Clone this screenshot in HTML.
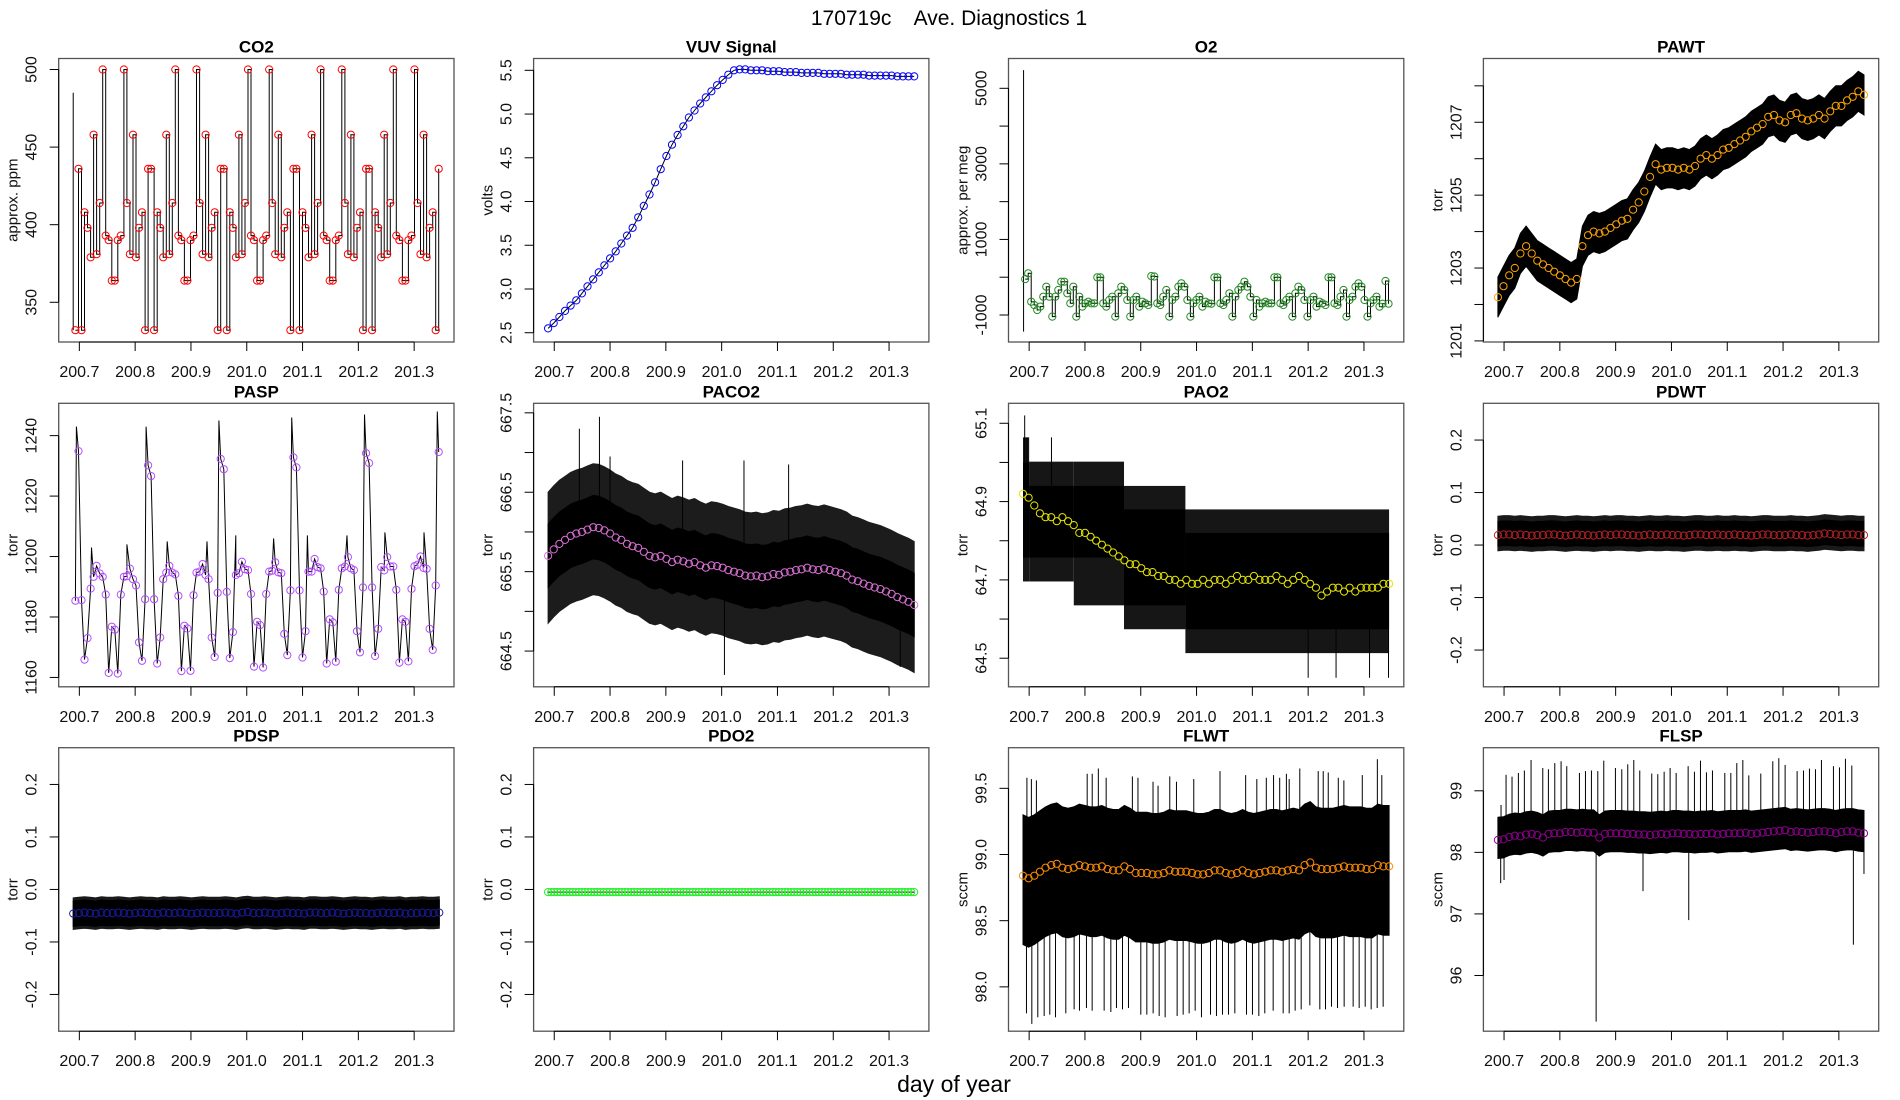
<!DOCTYPE html>
<html><head><meta charset="utf-8"><title>170719c Ave. Diagnostics 1</title>
<style>
html,body{margin:0;padding:0;background:#fff;}
svg{display:block;font-family:"Liberation Sans",Arial,sans-serif;}
</style></head>
<body>
<svg id="chart" width="1900" height="1100" viewBox="0 0 1900 1100" xmlns="http://www.w3.org/2000/svg">
<rect x="0" y="0" width="1900" height="1100" fill="#fff"/>
<text x="949" y="25" font-size="21" text-anchor="middle" style="white-space:pre">170719c    Ave. Diagnostics 1</text>
<text x="954" y="1092" font-size="23" text-anchor="middle">day of year</text>
</svg>
<script>
// ---------------- data ----------------
const xTicks = [200.7, 200.8, 200.9, 201.0, 201.1, 201.2, 201.3];
const xTickLabels = ["200.7","200.8","200.9","201.0","201.1","201.2","201.3"];
const tStart = 200.689, tEnd = 201.345;
const tStartStep = 200.693, tEndStep = 201.344;

const co2Values = [332,436,332,408,398,379,458,381,414,500,393,390,364,364,390,393,500,414,381,458,379,398,408,
332,436,436,332,408,398,379,458,381,414,500,393,390,364,364,390,393,500,414,381,458,379,398,408,
332,436,436,332,408,398,379,458,381,414,500,393,390,364,364,390,393,500,414,381,458,379,398,408,
332,436,436,332,408,398,379,458,381,414,500,393,390,364,364,390,393,500,414,381,458,379,398,408,
332,436,436,332,408,398,379,458,381,414,500,393,390,364,364,390,393,500,414,381,458,379,398,408,332,436];
const co2SpikeT = [200.689];
const co2SpikeV = [485];

const vuvValues = [2.55,2.61,2.68,2.75,2.81,2.87,2.95,3.03,3.11,3.19,3.27,3.35,3.43,3.52,3.61,3.70,3.82,3.95,4.08,4.22,4.37,4.52,4.65,4.76,4.86,4.96,5.04,5.12,5.19,5.26,5.33,5.39,5.45,5.50,5.51,
5.51,5.50,5.50,5.50,5.49,5.49,5.49,5.48,5.48,5.48,5.47,5.47,5.47,5.47,5.46,5.46,5.46,5.46,5.45,5.45,5.45,5.45,5.44,5.44,5.44,5.44,5.44,5.43,5.43,5.43,5.43];

const o2Values = [-50,103,-647,-735,-868,-779,-515,-250,-515,-1044,-515,-338,-118,-118,-427,-691,-250,-1044,-515,-779,-691,-647,-691,-691,-2,-2,-691,-779,-603,-515,-1044,-427,-250,-338,-603,-1044,-603,-515,-779,-647,-691,-735,30,20,-691,-735,-515,-338,-1044,-603,-515,-250,-160,-250,-603,-1044,-691,-603,-515,-779,-647,-691,-700,-2,-2,-691,-735,-603,-427,-1044,-515,-338,-250,-118,-250,-515,-1044,-603,-779,-691,-647,-691,-691,-2,-2,-691,-735,-603,-515,-1044,-427,-250,-338,-603,-1044,-603,-515,-779,-647,-691,-735,-2,-2,-691,-735,-515,-338,-1044,-603,-515,-250,-160,-250,-603,-1044,-691,-603,-515,-779,-700,-100,-700];
const o2SpikeT = [200.690];
const o2SpikeHi = [5480];
const o2SpikeLo = [-1440];

const pawtValues = [1202.2,1202.5,1202.8,1203.0,1203.4,1203.6,1203.4,1203.2,1203.1,1203.0,1202.9,1202.8,1202.7,1202.6,1202.7,1203.6,1203.9,1204.0,1203.95,1204.0,1204.1,1204.2,1204.3,1204.35,1204.6,1204.8,1205.1,1205.5,1205.85,1205.7,1205.75,1205.75,1205.7,1205.75,1205.7,1205.8,1206.0,1206.1,1206.0,1206.1,1206.25,1206.3,1206.4,1206.5,1206.6,1206.75,1206.85,1206.95,1207.15,1207.2,1207.05,1207.0,1207.2,1207.25,1207.1,1207.05,1207.1,1207.2,1207.1,1207.3,1207.45,1207.45,1207.6,1207.7,1207.85,1207.75];

const paspValues = [1185.4,1234.9,1185.6,1165.9,1173.0,1189.4,1193.3,1196.9,1194.4,1193.3,1187.4,1161.5,1176.8,1175.8,1161.3,1187.4,1193.3,1193.5,1196.0,1192.5,1190.4,1171.6,1165.5,1185.9,1230.2,1226.6,1185.9,1164.6,1173.2,1192.5,1194.7,1196.9,1194.7,1194.1,1187.0,1162.1,1177.1,1176.2,1162.2,1187.2,1194.7,1195.0,1197.5,1193.9,1192.5,1173.2,1166.8,1188.0,1232.3,1228.9,1188.3,1166.4,1175.0,1193.9,1194.5,1198.3,1195.8,1195.5,1187.6,1163.6,1178.4,1177.3,1163.3,1187.6,1195.0,1195.3,1198.1,1194.8,1194.5,1174.4,1167.4,1188.8,1232.8,1229.5,1188.8,1166.6,1175.3,1195.0,1195.0,1199.2,1196.5,1196.1,1188.4,1164.6,1179.2,1178.2,1165.2,1189.0,1196.1,1196.7,1199.8,1196.1,1195.5,1175.3,1168.3,1189.8,1234.2,1230.9,1189.8,1167.1,1176.1,1196.5,1195.4,1199.8,1196.7,1196.7,1189.0,1164.9,1179.2,1178.4,1165.3,1189.3,1196.8,1197.3,1200.0,1196.2,1195.9,1176.1,1169.1,1190.4,1234.6];
const paspPeakT = [200.6948,200.7217,200.7853,200.8197,200.8575,200.9287,200.950,200.9803,201.0482,201.0805,201.1086,201.1797,201.211,201.2475,201.3176,201.3414];
const paspPeakV = [1243,1203,1204,1243,1205,1205,1245,1207,1206,1246,1207,1207,1247,1208,1208,1248];

const paco2Values = [665.70,665.78,665.85,665.90,665.95,665.98,666.00,666.03,666.06,666.05,666.02,665.98,665.93,665.90,665.85,665.82,665.80,665.75,665.70,665.68,665.70,665.66,665.62,665.65,665.63,665.60,665.62,665.58,665.55,665.58,665.57,665.55,665.52,665.50,665.48,665.45,665.44,665.45,665.43,665.44,665.47,665.46,665.49,665.50,665.52,665.53,665.55,665.53,665.52,665.54,665.52,665.50,665.48,665.45,665.40,665.38,665.35,665.32,665.30,665.28,665.25,665.22,665.18,665.15,665.12,665.08];
const paco2SpikeT = [200.745,200.781,200.80,200.93,201.005,201.04,201.12,201.32];
const paco2SpikeV = [667.3,667.45,666.95,666.9,664.2,666.9,666.85,664.3];

const pao2Values = [64.92,64.91,64.89,64.87,64.86,64.86,64.85,64.86,64.85,64.84,64.82,64.82,64.81,64.80,64.79,64.78,64.77,64.76,64.75,64.74,64.74,64.73,64.72,64.72,64.71,64.71,64.70,64.70,64.69,64.70,64.69,64.69,64.70,64.69,64.70,64.70,64.69,64.70,64.71,64.70,64.70,64.71,64.70,64.70,64.70,64.71,64.70,64.69,64.70,64.71,64.70,64.69,64.68,64.66,64.67,64.68,64.68,64.67,64.68,64.67,64.68,64.68,64.68,64.68,64.69,64.69];
const pao2SegT = [200.689,200.70,200.78,200.87,200.98,201.345];
const pao2InnerHi = [65.00,64.94,64.94,64.88,64.82];
const pao2InnerLo = [64.757,64.757,64.757,64.635,64.574];
const pao2OuterHi = [65.064,65.002,65.002,64.94,64.88];
const pao2OuterLo = [64.696,64.696,64.635,64.574,64.513];
const pao2SpikeT = [200.692,200.696,200.74,201.2,201.25,201.31,201.344];
const pao2SpikeV = [65.12,65.064,65.064,64.45,64.45,64.45,64.45];

const pdwtValues = [0.019,0.020,0.020,0.019,0.020,0.019,0.018,0.019,0.019,0.020,0.020,0.019,0.018,0.019,0.020,0.019,0.019,0.018,0.019,0.020,0.019,0.020,0.020,0.019,0.019,0.018,0.019,0.020,0.019,0.019,0.020,0.019,0.019,0.018,0.019,0.020,0.020,0.019,0.019,0.020,0.019,0.019,0.020,0.019,0.019,0.018,0.019,0.020,0.020,0.019,0.019,0.019,0.020,0.019,0.019,0.018,0.019,0.020,0.022,0.021,0.020,0.019,0.020,0.020,0.019,0.019];
const pdspValues = [-0.046,-0.045,-0.044,-0.045,-0.046,-0.044,-0.045,-0.045,-0.044,-0.045,-0.046,-0.045,-0.044,-0.045,-0.045,-0.046,-0.044,-0.045,-0.045,-0.044,-0.045,-0.046,-0.045,-0.044,-0.045,-0.045,-0.045,-0.044,-0.045,-0.046,-0.044,-0.043,-0.045,-0.045,-0.044,-0.045,-0.046,-0.045,-0.044,-0.045,-0.045,-0.046,-0.044,-0.044,-0.045,-0.045,-0.044,-0.045,-0.046,-0.045,-0.044,-0.045,-0.045,-0.046,-0.045,-0.044,-0.045,-0.045,-0.044,-0.046,-0.045,-0.045,-0.044,-0.045,-0.045,-0.044];
const pdo2Values = [-0.005,-0.005,-0.005,-0.005,-0.005,-0.005,-0.005,-0.005,-0.005,-0.005,-0.005,-0.005,-0.005,-0.005,-0.005,-0.005,-0.005,-0.005,-0.005,-0.005,-0.005,-0.005,-0.005,-0.005,-0.005,-0.005,-0.005,-0.005,-0.005,-0.005,-0.005,-0.005,-0.005,-0.005,-0.005,-0.005,-0.005,-0.005,-0.005,-0.005,-0.005,-0.005,-0.005,-0.005,-0.005,-0.005,-0.005,-0.005,-0.005,-0.005,-0.005,-0.005,-0.005,-0.005,-0.005,-0.005,-0.005,-0.005,-0.005,-0.005,-0.005,-0.005,-0.005,-0.005,-0.005,-0.005,-0.005,-0.005,-0.005,-0.005,-0.005,-0.005,-0.005,-0.005,-0.005,-0.005,-0.005,-0.005,-0.005,-0.005,-0.005,-0.005,-0.005,-0.005,-0.005,-0.005,-0.005,-0.005,-0.005,-0.005,-0.005,-0.005,-0.005,-0.005,-0.005,-0.005,-0.005,-0.005,-0.005,-0.005,-0.005,-0.005,-0.005,-0.005,-0.005,-0.005,-0.005,-0.005,-0.005,-0.005,-0.005,-0.005,-0.005,-0.005,-0.005,-0.005,-0.005,-0.005,-0.005,-0.005];

const flwtValues = [98.84,98.82,98.84,98.87,98.90,98.92,98.93,98.90,98.89,98.90,98.92,98.91,98.90,98.90,98.91,98.89,98.88,98.88,98.91,98.89,98.86,98.86,98.86,98.85,98.85,98.86,98.88,98.87,98.87,98.87,98.86,98.85,98.85,98.86,98.88,98.88,98.86,98.85,98.86,98.88,98.86,98.85,98.86,98.87,98.88,98.88,98.87,98.88,98.89,98.88,98.92,98.94,98.90,98.89,98.89,98.89,98.90,98.91,98.90,98.90,98.90,98.89,98.89,98.92,98.91,98.91];
const flwtDownT = [200.6952,200.7048,200.7155,200.7269,200.7370,200.7472,200.7657,200.7806,200.7902,200.8027,200.8129,200.8344,200.8464,200.8565,200.8673,200.8780,200.9001,200.9109,200.9222,200.9330,200.9437,200.9652,200.9760,200.9867,200.9975,201.0088,201.0250,201.0357,201.0465,201.0572,201.0686,201.0895,201.1002,201.1116,201.1223,201.1373,201.1552,201.1660,201.1767,201.1875,201.2030,201.2209,201.2311,201.2418,201.2526,201.2645,201.2806,201.2914,201.3022,201.3129,201.3237,201.3344];
const flwtDownV = [97.80,97.72,97.77,97.78,97.79,97.77,97.80,97.83,97.82,97.84,97.82,97.82,97.81,97.84,97.83,97.84,97.79,97.79,97.80,97.78,97.77,97.78,97.79,97.80,97.82,97.77,97.79,97.78,97.79,97.79,97.80,97.79,97.79,97.78,97.80,97.82,97.80,97.80,97.82,97.83,97.86,97.83,97.83,97.85,97.84,97.85,97.85,97.84,97.85,97.83,97.84,97.85];
const flwtUpT = [200.696,200.704,200.713,200.804,200.813,200.824,200.838,200.885,200.895,200.922,200.931,200.952,200.964,200.995,201.042,201.088,201.108,201.125,201.138,201.149,201.161,201.166,201.185,201.218,201.227,201.236,201.254,201.264,201.297,201.324,201.332];
const flwtUpV = [99.58,99.57,99.56,99.61,99.61,99.65,99.58,99.59,99.58,99.55,99.52,99.59,99.55,99.57,99.63,99.60,99.57,99.58,99.60,99.58,99.61,99.57,99.65,99.63,99.63,99.62,99.58,99.56,99.60,99.72,99.60];

const flspValues = [98.20,98.21,98.25,98.27,98.26,98.29,98.30,98.28,98.24,98.30,98.31,98.31,98.33,98.33,98.32,98.33,98.32,98.32,98.24,98.30,98.31,98.31,98.31,98.30,98.30,98.29,98.29,98.28,98.29,98.30,98.29,98.31,98.31,98.30,98.30,98.29,98.30,98.30,98.31,98.29,98.30,98.31,98.31,98.31,98.32,98.30,98.31,98.32,98.33,98.34,98.35,98.36,98.33,98.34,98.33,98.32,98.33,98.34,98.34,98.33,98.31,98.33,98.34,98.34,98.32,98.31];
const flspUpT = [200.6946,200.7036,200.7143,200.7257,200.7364,200.7484,200.7694,200.7795,200.7909,200.8022,200.8124,200.8351,200.8459,200.8566,200.8680,200.8787,200.8996,200.9110,200.9217,200.9325,200.9432,200.9647,200.9755,200.9869,200.9976,201.0084,201.0299,201.0412,201.0520,201.0627,201.0735,201.0956,201.1064,201.1171,201.1279,201.1386,201.1601,201.1816,201.1924,201.2037,201.2252,201.2366,201.2473,201.2581,201.2688,201.2903,201.3011,201.3118,201.3232,201.3339];
const flspUpV = [98.77,99.26,99.23,99.29,99.33,99.50,99.37,99.35,99.45,99.48,99.40,99.29,99.32,99.33,99.32,99.49,99.37,99.35,99.43,99.50,99.33,99.28,99.27,99.31,99.37,99.29,99.40,99.31,99.49,99.30,99.33,99.29,99.29,99.45,99.50,99.25,99.28,99.48,99.53,99.42,99.32,99.33,99.36,99.35,99.50,99.40,99.38,99.52,99.41,98.68];
const flspDownT = [200.694,200.7,200.865,200.949,201.031,201.326,201.345];
const flspDownV = [97.50,97.55,95.25,97.37,96.90,96.50,97.65];

// ---------------- layout helpers ----------------
const svg = document.getElementById('chart');
const NS = 'http://www.w3.org/2000/svg';
const X0 = 200.663, XW = 0.7084, PW = 395.3, PH = 283.5;
const colL = [58.7, 533.6, 1008.5, 1483.4];
const rowT = [58.5, 403.3, 747.7];

function mk(tag, attrs, parent) {
  const el = document.createElementNS(NS, tag);
  for (const k in attrs) el.setAttribute(k, attrs[k]);
  (parent || svg).appendChild(el);
  return el;
}
function linspace(a, b, n) {
  const out = [];
  for (let i = 0; i < n; i++) out.push(n === 1 ? a : a + (b - a) * i / (n - 1));
  return out;
}
function makePanel(col, row, ymin, ymax) {
  const L = colL[col], T = rowT[row];
  return {
    L: L, T: T,
    x: t => L + (t - X0) / XW * PW,
    y: v => T + (ymax - v) / (ymax - ymin) * PH
  };
}
function drawAxes(p, name, title, ylab, yTicks, yLabels) {
  const g = mk('g', {});
  
  
  const bottom = p.T + PH;
  const xa = mk('line', {x1: p.x(xTicks[0]), x2: p.x(xTicks[xTicks.length-1]), y1: bottom, y2: bottom, stroke: '#000', 'stroke-width': 1}, g);
  
  
  xTicks.forEach((t, i) => {
    const tk = mk('line', {x1: p.x(t), x2: p.x(t), y1: bottom, y2: bottom + 9, stroke: '#000', 'stroke-width': 1}, g);
    
    
    const tl = mk('text', {x: p.x(t), y: bottom + 35, 'font-size': 16, 'text-anchor': 'middle', fill: '#111'}, g);
    
    
    tl.textContent = xTickLabels[i];
  });
  const ya = mk('line', {x1: p.L, x2: p.L, y1: p.y(yTicks[0]), y2: p.y(yTicks[yTicks.length-1]), stroke: '#000', 'stroke-width': 1}, g);
  
  
  yTicks.forEach((v, i) => {
    const yy = p.y(v);
    const tk = mk('line', {x1: p.L - 9, x2: p.L, y1: yy, y2: yy, stroke: '#000', 'stroke-width': 1}, g);
    
    
    if (yLabels[i]) {
      const tl = mk('text', {x: p.L - 22, y: yy, 'font-size': 16, 'text-anchor': 'middle', fill: '#111', transform: `rotate(-90 ${p.L - 22} ${yy})`}, g);
      
      
      tl.textContent = yLabels[i];
    }
  });
  const yt = mk('text', {x: p.L - 41, y: p.T + PH / 2, 'font-size': 15, 'text-anchor': 'middle', fill: '#111', transform: `rotate(-90 ${p.L - 41} ${p.T + PH / 2})`}, g);
  
  
  yt.textContent = ylab;
  const tt = mk('text', {x: p.L + PW / 2, y: p.T - 6, 'font-size': 17, 'font-weight': 'bold', 'text-anchor': 'middle'}, g);
  
  
  tt.textContent = title;
}
function drawBox(p, name) {
  const b = mk('rect', {x: p.L, y: p.T, width: PW, height: PH, fill: 'none', stroke: '#555', 'stroke-width': 1.3});
  
  
}
function bandPath(p, ts, vals, up, down) {
  let d = '';
  ts.forEach((t, i) => { d += (i ? 'L' : 'M') + p.x(t).toFixed(1) + ' ' + p.y(vals[i] + up).toFixed(1); });
  for (let i = ts.length - 1; i >= 0; i--) d += 'L' + p.x(ts[i]).toFixed(1) + ' ' + p.y(vals[i] - down).toFixed(1);
  return d + 'Z';
}
function drawBand(p, name, ts, vals, up, down, fill) {
  const b = mk('path', {d: bandPath(p, ts, vals, up, down), fill: fill, stroke: fill, 'stroke-width': 1});
  
  
}
function drawLine(p, name, ts, vals, step) {
  let d = '';
  ts.forEach((t, i) => {
    const X = p.x(t).toFixed(1), Y = p.y(vals[i]).toFixed(1);
    if (i === 0) d += 'M' + X + ' ' + Y;
    else if (step) d += 'H' + X + 'V' + Y;
    else d += 'L' + X + ' ' + Y;
  });
  const l = mk('path', {d: d, fill: 'none', stroke: '#000', 'stroke-width': 1});
  
  
}
function drawSpikes(p, name, ts, from, vals) {
  const n = Math.min(ts.length, vals.length);
  for (let i = 0; i < n; i++) {
    const f = Array.isArray(from) ? from[i] : from;
    const s = mk('line', {x1: p.x(ts[i]), x2: p.x(ts[i]), y1: p.y(f), y2: p.y(vals[i]), stroke: '#000', 'stroke-width': 1});
    
    
  }
}
function drawCircles(p, name, ts, vals, color) {
  const g = mk('g', {fill: 'none', stroke: color, 'stroke-width': 1});
  
  
  ts.forEach((t, i) => {
    const c = mk('circle', {cx: p.x(t).toFixed(1), cy: p.y(vals[i]).toFixed(1), r: 3.6}, g);
    
    
  });
}
function interpAt(ts, vals, t) {
  if (t <= ts[0]) return vals[0];
  for (let i = 1; i < ts.length; i++) if (t <= ts[i]) {
    const f = (t - ts[i-1]) / (ts[i] - ts[i-1]);
    return vals[i-1] + f * (vals[i] - vals[i-1]);
  }
  return vals[vals.length - 1];
}
const T66 = n => linspace(tStart, tEnd, n);

// ---------------- CO2 ----------------
(function(){
  const p = makePanel(0, 0, 324.4, 507.1);
  const ts = linspace(tStartStep, tEndStep, co2Values.length);
  drawSpikes(p, 'co2-raw-spike', co2SpikeT, co2Values[0], co2SpikeV);
  drawLine(p, 'co2-raw-line', ts, co2Values, true);
  drawCircles(p, 'co2', ts, co2Values, '#ff0000');
  drawBox(p, 'co2');
  drawAxes(p, 'co2', 'CO2', 'approx. ppm', [350,400,450,500], ['350','400','450','500']);
})();
// ---------------- VUV ----------------
(function(){
  const p = makePanel(1, 0, 2.394, 5.635);
  const ts = T66(vuvValues.length);
  drawLine(p, 'vuv-raw-line', ts, vuvValues, false);
  drawCircles(p, 'vuv', ts, vuvValues, '#0000ff');
  drawBox(p, 'vuv');
  drawAxes(p, 'vuv', 'VUV Signal', 'volts', [2.5,3,3.5,4,4.5,5,5.5], ['2.5','3.0','3.5','4.0','4.5','5.0','5.5']);
})();
// ---------------- O2 ----------------
(function(){
  const p = makePanel(2, 0, -1715, 5789);
  const ts = linspace(tStartStep, tEndStep, o2Values.length);
  drawSpikes(p, 'o2-raw-spike', o2SpikeT, o2SpikeLo, o2SpikeHi);
  drawLine(p, 'o2-raw-line', ts, o2Values, true);
  drawCircles(p, 'o2', ts, o2Values, '#228b22');
  drawBox(p, 'o2');
  drawAxes(p, 'o2', 'O2', 'approx. per meg', [-1000,0,1000,2000,3000,4000,5000], ['-1000','','1000','','3000','','5000']);
})();
// ---------------- PAWT ----------------
(function(){
  const p = makePanel(3, 0, 1200.97, 1208.75);
  const ts = T66(pawtValues.length);
  drawBand(p, 'pawt-raw-band', ts, pawtValues, 0.55, 0.55, '#000');
  drawCircles(p, 'pawt', ts, pawtValues, '#ffa500');
  drawBox(p, 'pawt');
  drawAxes(p, 'pawt', 'PAWT', 'torr', [1201,1202,1203,1204,1205,1206,1207,1208], ['1201','','1203','','1205','','1207','']);
})();
// ---------------- PASP ----------------
(function(){
  const p = makePanel(0, 1, 1156.9, 1250.7);
  const ts = linspace(tStartStep, tEndStep, paspValues.length);
  const merged = ts.map((t, i) => [t, paspValues[i]]).concat(paspPeakT.map((t, i) => [t, paspPeakV[i]]));
  merged.sort((a, b) => a[0] - b[0]);
  drawLine(p, 'pasp-raw-line', merged.map(m => m[0]), merged.map(m => m[1]), false);
  drawCircles(p, 'pasp', ts, paspValues, '#b44cff');
  drawBox(p, 'pasp');
  drawAxes(p, 'pasp', 'PASP', 'torr', [1160,1180,1200,1220,1240], ['1160','1180','1200','1220','1240']);
})();
// ---------------- PACO2 ----------------
(function(){
  const p = makePanel(1, 1, 664.05, 667.62);
  const ts = T66(paco2Values.length);
  drawBand(p, 'paco2-raw-outer-band', ts, paco2Values, 0.8, 0.85, '#1c1c1c');
  drawBand(p, 'paco2-raw-core-band', ts, paco2Values, 0.4, 0.4, '#000');
  drawSpikes(p, 'paco2-raw-spike', paco2SpikeT, paco2SpikeT.map(t => interpAt(ts, paco2Values, t)), paco2SpikeV);
  drawCircles(p, 'paco2', ts, paco2Values, '#da70d6');
  drawBox(p, 'paco2');
  drawAxes(p, 'paco2', 'PACO2', 'torr', [664.5,665,665.5,666,666.5,667,667.5], ['664.5','','665.5','','666.5','','667.5']);
})();
// ---------------- PAO2 ----------------
(function(){
  const p = makePanel(2, 1, 64.427, 65.151);
  const ts = T66(pao2Values.length);
  function seg(hi, lo, fill, nm) {
    for (let i = 0; i < hi.length; i++) {
      const x1 = p.x(pao2SegT[i]), x2 = p.x(pao2SegT[i+1]);
      const r = mk('rect', {x: x1, y: p.y(hi[i]), width: x2 - x1, height: p.y(lo[i]) - p.y(hi[i]), fill: fill});
      
      
    }
  }
  seg(pao2OuterHi, pao2OuterLo, '#161616', 'pao2-raw-outer-band');
  seg(pao2InnerHi, pao2InnerLo, '#000', 'pao2-raw-core-band');
  drawSpikes(p, 'pao2-raw-spike', pao2SpikeT, pao2SpikeT.map(t => interpAt(ts, pao2Values, t)), pao2SpikeV);
  drawCircles(p, 'pao2', ts, pao2Values, '#e6e600');
  drawBox(p, 'pao2');
  drawAxes(p, 'pao2', 'PAO2', 'torr', [64.5,64.6,64.7,64.8,64.9,65.0,65.1], ['64.5','','64.7','','64.9','','65.1']);
})();
// ---------------- PDWT / PDSP / PDO2 ----------------
const pdTicks = [-0.2,-0.1,0,0.1,0.2];
const pdLabels = ['-0.2','-0.1','0.0','0.1','0.2'];
(function(){
  const p = makePanel(3, 1, -0.27, 0.27);
  const ts = T66(pdwtValues.length);
  drawBand(p, 'pdwt-raw-outer-band', ts, pdwtValues, 0.036, 0.03, '#1a1a1a');
  drawBand(p, 'pdwt-raw-core-band', ts, pdwtValues, 0.026, 0.021, '#000');
  drawCircles(p, 'pdwt', ts, pdwtValues, '#b22222');
  drawBox(p, 'pdwt');
  drawAxes(p, 'pdwt', 'PDWT', 'torr', pdTicks, pdLabels);
})();
(function(){
  const p = makePanel(0, 2, -0.27, 0.27);
  const ts = T66(pdspValues.length);
  drawBand(p, 'pdsp-raw-outer-band', ts, pdspValues, 0.03, 0.03, '#1a1a1a');
  drawBand(p, 'pdsp-raw-core-band', ts, pdspValues, 0.024, 0.024, '#000');
  drawCircles(p, 'pdsp', ts, pdspValues, '#1a1a9c');
  drawBox(p, 'pdsp');
  drawAxes(p, 'pdsp', 'PDSP', 'torr', pdTicks, pdLabels);
})();
(function(){
  const p = makePanel(1, 2, -0.27, 0.27);
  const ts = T66(pdo2Values.length);
  drawLine(p, 'pdo2-raw-line', ts, pdo2Values, false);
  drawCircles(p, 'pdo2', ts, pdo2Values, '#22ee22');
  drawBox(p, 'pdo2');
  drawAxes(p, 'pdo2', 'PDO2', 'torr', pdTicks, pdLabels);
})();
// ---------------- FLWT ----------------
(function(){
  const p = makePanel(2, 2, 97.665, 99.807);
  const ts = T66(flwtValues.length);
  drawSpikes(p, 'flwt-raw-down-spike', flwtDownT, 98.6, flwtDownV);
  drawSpikes(p, 'flwt-raw-up-spike', flwtUpT, 99.0, flwtUpV);
  drawBand(p, 'flwt-raw-band', ts, flwtValues, 0.46, 0.52, '#000');
  drawCircles(p, 'flwt', ts, flwtValues, '#ff8c00');
  drawBox(p, 'flwt');
  drawAxes(p, 'flwt', 'FLWT', 'sccm', [98.0,98.5,99.0,99.5], ['98.0','98.5','99.0','99.5']);
})();
// ---------------- FLSP ----------------
(function(){
  const p = makePanel(3, 2, 95.095, 99.70);
  const ts = T66(flspValues.length);
  drawSpikes(p, 'flsp-raw-up-spike', flspUpT, 98.3, flspUpV);
  drawSpikes(p, 'flsp-raw-down-spike', flspDownT, 98.2, flspDownV);
  drawBand(p, 'flsp-raw-band', ts, flspValues, 0.37, 0.3, '#000');
  drawCircles(p, 'flsp', ts, flspValues, '#8b008b');
  drawBox(p, 'flsp');
  drawAxes(p, 'flsp', 'FLSP', 'sccm', [96,97,98,99], ['96','97','98','99']);
})();
</script>
</body></html>
